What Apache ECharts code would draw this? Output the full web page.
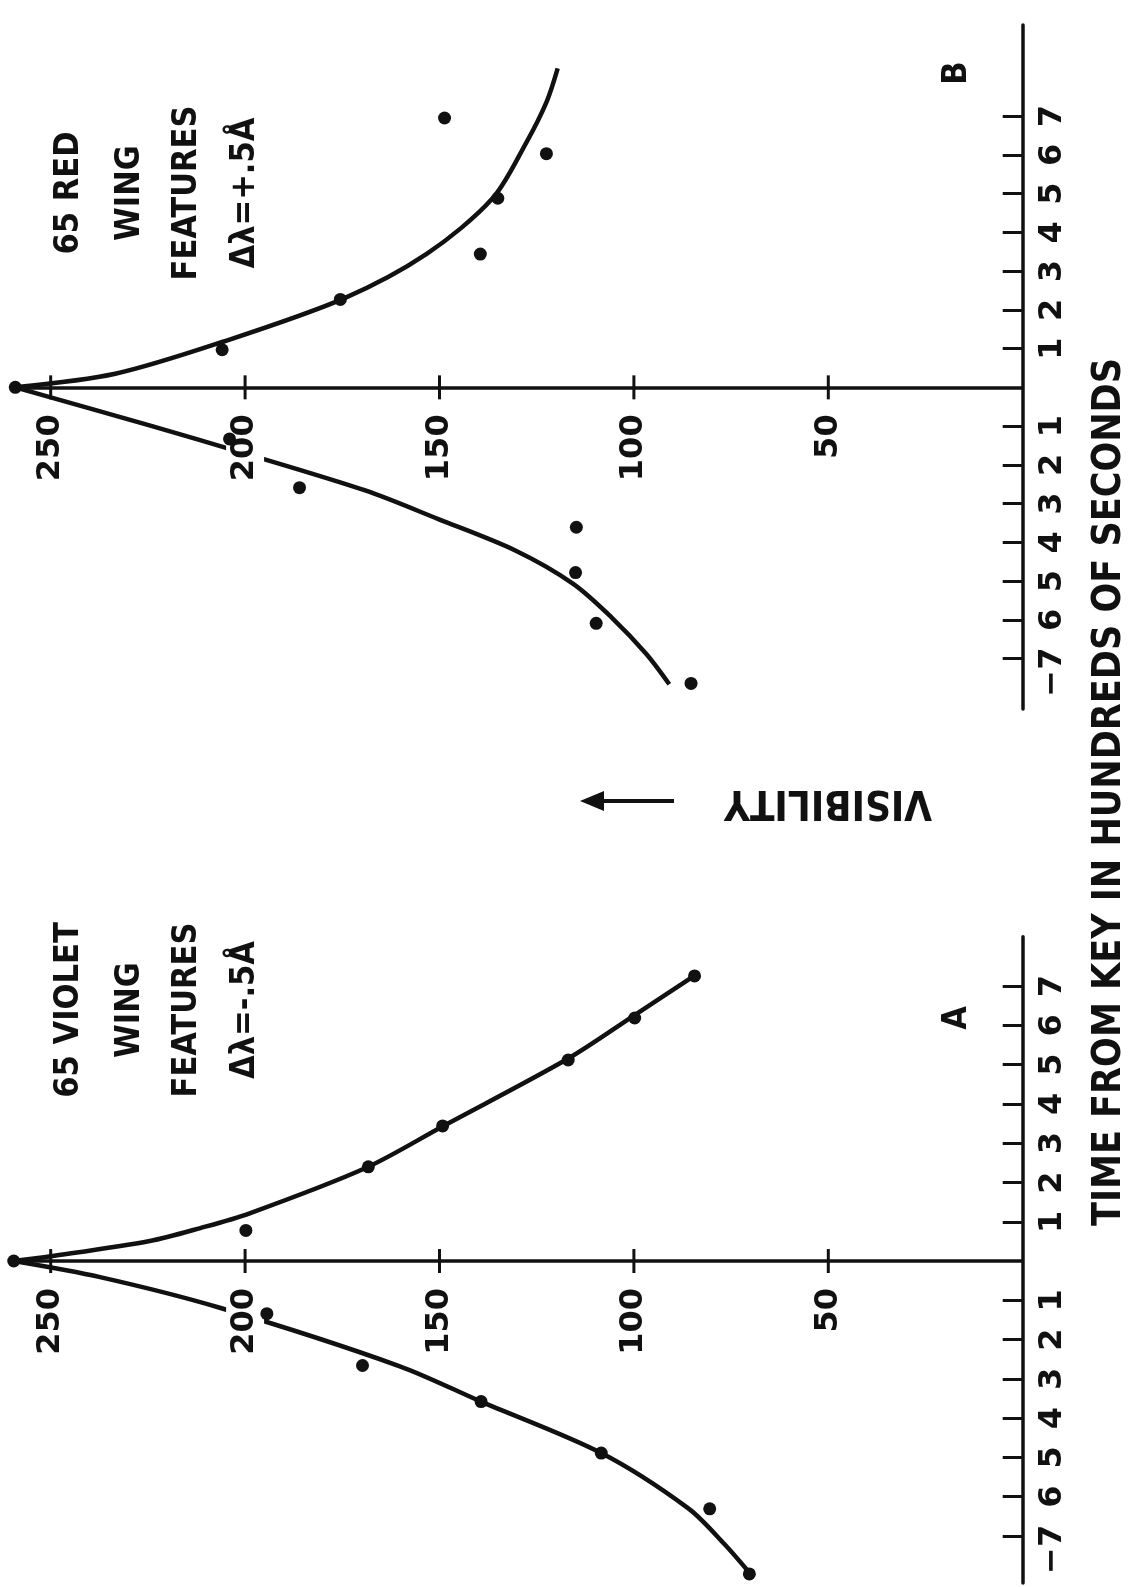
<!DOCTYPE html>
<html>
<head>
<meta charset="utf-8">
<title>Visibility of wing features vs time from key</title>
<script src="https://cdn.jsdelivr.net/npm/echarts@6/dist/echarts.min.js"></script>
<style>
  html, body { margin: 0; padding: 0; background: #fff; }
  #fig { width: 1132px; height: 1587px; }
</style>
</head>
<body>
<div id="fig"></div>
<script>
// ---- data: [visibility, time (hundreds of seconds)] ----
const visTicks = [50, 100, 150, 200, 250];
const timeTicks = [-7, -6, -5, -4, -3, -2, -1, 1, 2, 3, 4, 5, 6, 7];

// Panel A: 65 violet wing features
const violetPoints = [
  [259.5, 0], [199.8, 0.78], [168.3, 2.40], [149.2, 3.44], [116.9, 5.12], [99.8, 6.19], [84.4, 7.26],
  [194.4, -1.34], [169.8, -2.66], [139.3, -3.58], [108.4, -4.89], [80.5, -6.31], [70.3, -7.97]
];
const violetFitAfter = [
  [259.5, 0], [250, 0.12], [224.5, 0.51], [211.5, 0.84], [199, 1.21], [169, 2.37],
  [149, 3.44], [117, 5.15], [100, 6.25], [84.5, 7.26]
];
const violetFitBefore = [
  [259.5, 0], [237.3, -0.41], [206.5, -1.19], [160.2, -2.68], [139.3, -3.58],
  [108.4, -4.89], [86, -6.3], [76.8, -7.2], [70, -7.97]
];

// Panel B: 65 red wing features
const redPoints = [
  [259.1, 0], [205.9, 0.97], [175.5, 2.27], [139.5, 3.44], [135, 4.88], [122.5, 6.03], [148.7, 6.95],
  [204, -1.33], [186, -2.59], [114.8, -3.61], [115, -4.78], [109.7, -6.09], [85.3, -7.64]
];
const redFitAfter = [
  [259.1, 0], [233.4, 0.35], [205.9, 1.17], [174.7, 2.29], [153.2, 3.45],
  [136.4, 4.87], [127.6, 6.33], [122.4, 7.38], [119.6, 8.23]
];
const redFitBefore = [
  [259.1, 0], [224.6, -0.98], [201.2, -1.67], [169.1, -2.66], [150.3, -3.40],
  [130.5, -4.21], [115.6, -5.07], [105.7, -5.94], [96.8, -6.88], [90.9, -7.66]
];

const violetLabel = ['65 VIOLET', 'WING', 'FEATURES', 'Δλ=-.5Å'];
const redLabel = ['65 RED', 'WING', 'FEATURES', 'Δλ=+.5Å'];
const panelNames = ['B', 'A'];
const timeTitle = 'TIME FROM KEY IN HUNDREDS OF SECONDS';
const visTitle = 'VISIBILITY';

(function () {
  // ---- styling ----
  var INK = '#111';
  var DIGITS = '"DejaVu Sans", "Liberation Sans", sans-serif';
  var LETTERS = '"DejaVu Sans Condensed", "DejaVu Sans", sans-serif';
  var VIS_MAX = 260;
  var LEFT = 11.8, RIGHT = 109.3, PAGE_H = 1587;
  var TICK_HALF = 12;

  // The figure is laid out turned on its side: visibility runs right-to-left,
  // time runs bottom-to-top, and every text reads upward.
  var panels = [
    { top: 25, bottom: 878, tMin: -8.3, tMax: 9.35, points: redPoints, fits: [redFitAfter, redFitBefore] },
    { top: 936.7, bottom: 4, tMin: -8.2, tMax: 8.26, points: violetPoints, fits: [violetFitAfter, violetFitBefore] }
  ];

  var visScale = { type: 'value', inverse: true, min: 0, max: VIS_MAX, splitLine: { show: false } };
  function visAxis(extra) { return Object.assign({}, visScale, extra); }

  var grids = [], xAxes = [], yAxes = [], seriesList = [];
  panels.forEach(function (p, i) {
    var h = PAGE_H - p.top - p.bottom;
    var zeroY = p.top + h * p.tMax / (p.tMax - p.tMin);   // where time 0 falls
    var gMain = 2 * i, gStrip = 2 * i + 1;
    grids.push({ left: LEFT, right: RIGHT, top: p.top, bottom: p.bottom });
    // a thin strip straddling time = 0 that carries the visibility labels
    grids.push({ left: LEFT, right: RIGHT, top: zeroY - TICK_HALF, height: 2 * TICK_HALF });

    // scale-only visibility axis for the plotted marks
    xAxes.push(visAxis({ gridIndex: gMain, show: false }));
    // visibility labels underneath the zero line
    xAxes.push(visAxis({
      gridIndex: gStrip, position: 'bottom', z: 3,
      axisLine: { show: false, onZero: false },
      axisTick: { show: false },
      axisLabel: {
        show: true, customValues: visTicks, rotate: 90, margin: 27 - TICK_HALF, fontSize: 32,
        fontWeight: 'bold', color: INK, fontFamily: DIGITS,
        backgroundColor: '#fff', padding: [7, 0], lineHeight: 24
      }
    }));

    yAxes.push({
      type: 'value', gridIndex: gMain, position: 'right', min: p.tMin, max: p.tMax,
      splitLine: { show: false },
      axisLine: { onZero: false, lineStyle: { color: INK, width: 3.5 } },
      axisTick: {
        show: true, inside: true, customValues: timeTicks, length: 20,
        lineStyle: { color: INK, width: 3 }
      },
      axisLabel: {
        customValues: timeTicks, rotate: 90, margin: 14, fontSize: 32, fontWeight: 'bold',
        color: INK, fontFamily: DIGITS,
        formatter: function (v) { return v === -7 ? '{neg|\u22127}' : String(Math.abs(v)); },
        rich: {
          neg: { fontSize: 32, fontWeight: 'bold', fontFamily: DIGITS, color: INK, padding: [0, 27, 0, 0] }
        }
      }
    });
    yAxes.push({ type: 'value', gridIndex: gStrip, show: false, min: -1, max: 1 });

    p.fits.forEach(function (f, k) {
      var s = {
        type: 'line', xAxisIndex: 2 * i, yAxisIndex: gMain, data: f, smooth: 0.3,
        showSymbol: false, silent: true, z: 2,
        lineStyle: { color: INK, width: 4.5 }
      };
      if (k === 0) {
        // the visibility axis line itself, at time = 0
        s.markLine = {
          silent: true, animation: false, symbol: ['none', 'none'], label: { show: false },
          lineStyle: { color: INK, width: 3.5, type: 'solid' },
          data: [{ yAxis: 0 }]
        };
      }
      seriesList.push(s);
    });
    seriesList.push({
      type: 'scatter', xAxisIndex: 2 * i, yAxisIndex: gMain, data: p.points,
      symbolSize: 13, itemStyle: { color: INK, opacity: 1 }, z: 5
    });
  });

  // ---- text annotations ----
  function textEl(text, x, y, size, family, rot) {
    return {
      type: 'text', x: x, y: y, rotation: rot === undefined ? Math.PI / 2 : rot,
      style: {
        text: text, font: 'bold ' + size + 'px ' + family, fill: INK,
        align: 'center', verticalAlign: 'middle'
      }
    };
  }
  var lineX = [69, 130, 187, 245];
  var texts = [];
  redLabel.forEach(function (t, k) { texts.push(textEl(t, lineX[k], 193, 34, LETTERS)); });
  violetLabel.forEach(function (t, k) { texts.push(textEl(t, lineX[k], 1010, 34, LETTERS)); });
  texts.push(textEl(panelNames[0], 957, 73, 34, LETTERS));
  texts.push(textEl(panelNames[1], 957, 1018, 34, LETTERS));
  texts.push(textEl(timeTitle, 1110, 792, 39, LETTERS));
  texts.push(textEl(visTitle, 828, 801, 40, LETTERS, Math.PI));
  // arrow pointing toward higher visibility
  texts.push({ type: 'line', shape: { x1: 674, y1: 801, x2: 598, y2: 801 },
    style: { stroke: INK, lineWidth: 4 } });
  texts.push({ type: 'polygon', shape: { points: [[580, 801], [604, 791], [604, 811]] },
    style: { fill: INK } });

  var fig = echarts.init(document.getElementById('fig'));
  fig.setOption({
    animation: false,
    backgroundColor: '#fff',
    grid: grids, xAxis: xAxes, yAxis: yAxes, series: seriesList, graphic: texts
  });

  // crossing tick marks of the visibility axis, located through each panel's scales
  try {
    var ticks = [];
    panels.forEach(function (p, i) {
      visTicks.forEach(function (v) {
        var pt = fig.convertToPixel({ gridIndex: 2 * i }, [v, 0]);
        if (!pt) return;
        ticks.push({
          type: 'line', z: 10, silent: true,
          shape: { x1: pt[0], y1: pt[1] - TICK_HALF, x2: pt[0], y2: pt[1] + TICK_HALF },
          style: { stroke: INK, lineWidth: 3 }
        });
      });
    });
    fig.setOption({ graphic: texts.concat(ticks) });
  } catch (e) { /* ticks are decorative; keep the chart if conversion fails */ }
})();
</script>
</body>
</html>
